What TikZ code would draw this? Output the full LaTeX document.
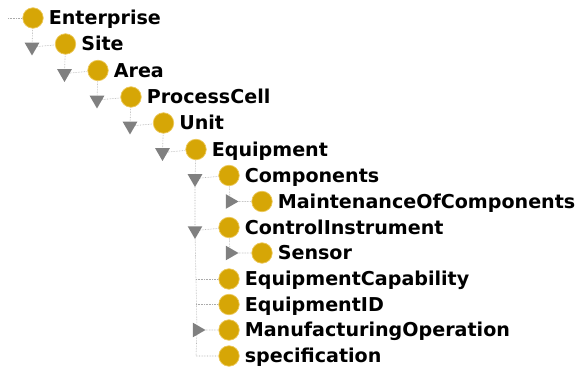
\documentclass[tikz,border=0pt]{standalone}
\usepackage{fontspec}
\setmainfont{DejaVu Sans}
\usepackage{xcolor}
\usepackage{tikz}
\usetikzlibrary{positioning, shapes.geometric}

\definecolor{classgold}{RGB}{214,166,6}
\definecolor{classrim}{RGB}{236,200,90}
\definecolor{togglegray}{RGB}{128,128,128}
\definecolor{treeline}{RGB}{170,170,170}

\begin{document}
\begin{tikzpicture}[x=1pt, y=-1pt,
    cls/.style={circle, fill=classgold, draw=classrim, line width=0.7pt,
                minimum size=20.5pt, inner sep=0pt},
    clsname/.style={font=\bfseries\fontsize{19.1}{20}\selectfont, inner sep=0pt,
                    text height=13.9pt, text depth=0pt, right=5pt of #1},
    opened/.style={regular polygon, regular polygon sides=3, shape border rotate=180,
                   fill=togglegray, minimum size=17pt, inner sep=0pt},
    closed/.style={regular polygon, regular polygon sides=3, shape border rotate=-90,
                   fill=togglegray, minimum size=17pt, inner sep=0pt},
    branch/.style={draw=treeline, densely dotted, line width=0.6pt}]
  \useasboundingbox (0,0) rectangle (580,371);

  \node[cls] (enterprise) at (33,18) {};
  \node[cls] (site) at (65.5,44) {};
  \node[cls] (area) at (98,70.5) {};
  \node[cls] (processcell) at (131,97) {};
  \node[cls] (unit) at (163.5,123) {};
  \node[cls] (equipment) at (196,149.5) {};
  \node[cls] (components) at (229,175.5) {};
  \node[cls] (maintenance) at (262,201.5) {};
  \node[cls] (control) at (229,227.5) {};
  \node[cls] (sensor) at (262,253) {};
  \node[cls] (capability) at (229,279) {};
  \node[cls] (equipid) at (229,304.5) {};
  \node[cls] (manufacturing) at (229,330) {};
  \node[cls] (specification) at (229,356) {};

  \node[clsname=enterprise] {Enterprise};
  \node[clsname=site] {Site};
  \node[clsname=area] {Area};
  \node[clsname=processcell] {ProcessCell};
  \node[clsname=unit] {Unit};
  \node[clsname=equipment] {Equipment};
  \node[clsname=components] {Components};
  \node[clsname=maintenance] {MaintenanceOfComponents};
  \node[clsname=control] {ControlInstrument};
  \node[clsname=sensor] {Sensor};
  \node[clsname=capability] {EquipmentCapability};
  \node[clsname=equipid] {EquipmentID};
  \node[clsname=manufacturing] {ManufacturingOperation};
  \node[clsname=specification] {specification};

  \node[opened] (tsite) at (32,47) {};
  \node[opened] (tarea) at (64.5,73.5) {};
  \node[opened] (tprocesscell) at (97,100) {};
  \node[opened] (tunit) at (130,126) {};
  \node[opened] (tequipment) at (162.5,152.5) {};
  \node[opened] (tcomponents) at (195,178.5) {};
  \node[closed] (tmaintenance) at (230,201.5) {};
  \node[opened] (tcontrol) at (195,230.5) {};
  \node[closed] (tsensor) at (230,253) {};
  \node[closed] (tmanufacturing) at (197,330) {};
  \coordinate (root) at (8,18);
  \coordinate (jcapability) at (196,279);
  \coordinate (jequipid) at (196,304.5);
  \coordinate (jspecification) at (196,356);

  \draw[branch] (root) -- (enterprise);
  \draw[branch] (enterprise) -- (tsite) -- (site);
  \draw[branch] (site) -- (tarea) -- (area);
  \draw[branch] (area) -- (tprocesscell) -- (processcell);
  \draw[branch] (processcell) -- (tunit) -- (unit);
  \draw[branch] (unit) -- (tequipment) -- (equipment);
  \draw[branch] (equipment) -- (tcomponents) -- (components);
  \draw[branch] (tcomponents) -- (tcontrol) -- (control);
  \draw[branch] (tcontrol) -- (tmanufacturing) -- (manufacturing);
  \draw[branch] (tmanufacturing) -- (jspecification) -- (specification);
  \draw[branch] (components) -- (tmaintenance) -- (maintenance);
  \draw[branch] (control) -- (tsensor) -- (sensor);
  \draw[branch] (jcapability) -- (capability);
  \draw[branch] (jequipid) -- (equipid);
\end{tikzpicture}
\end{document}
